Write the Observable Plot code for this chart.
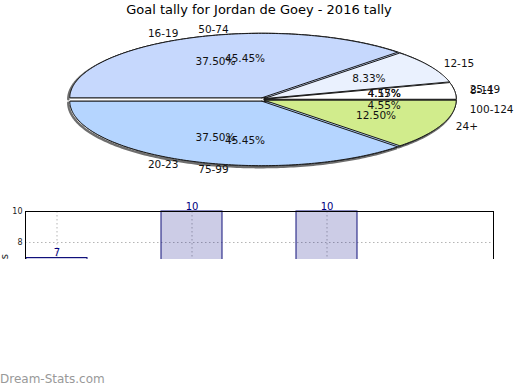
<!DOCTYPE html>
<html><head><meta charset="utf-8">
<script src="https://cdn.jsdelivr.net/npm/d3@7"></script>
<script src="https://cdn.jsdelivr.net/npm/@observablehq/plot@0.6"></script>
<style>
body{margin:0;width:520px;height:390px;overflow:hidden;background:#fff;font-family:"DejaVu Sans",sans-serif;position:relative}
#pie{position:absolute;top:0;left:0}
#title{position:absolute;top:2px;left:0;width:518px;text-align:center;font-size:13px;line-height:16px;color:#000}
#bars{position:absolute;top:196px;left:0;width:520px;height:63px;overflow:hidden}
#credit{position:absolute;left:0;top:372px;font-size:12px;line-height:15px;color:#999}
</style></head><body>
<div id="pie"></div>
<div id="title">Goal tally for Jordan de Goey - 2016 tally</div>
<div id="bars"></div>
<div id="credit">Dream-Stats.com</div>
<script>
// ---- data ----
const ageGroups = ["8-11", "12-15", "16-19", "20-23", "24+"];
const ageCounts = [1, 2, 9, 9, 3];
const ageColors = ["#ffffff", "#eaf1fe", "#c6d8fd", "#b5d5ff", "#d1ec8c"];

const gameGroups = ["25-49", "50-74", "75-99", "100-124"];
const gameCounts = [1, 10, 10, 1];
const gameColors = ["#ffffff", "#c6d8fd", "#b5d5ff", "#d1ec8c"];

const barCats = ["A", "B", "C", "D"];
const barValues = [7, 10, 10];
const barTicks = [8, 10];
const yLabel = "Goals";

// ---- pie geometry (scale space = pixels) ----
const W = 520, H = 190;
const cx = 262, cy = 99, rx = 192, ry = 64.5, ex = 1.8;

function pieSlices(counts, labels, colors) {
  const total = d3.sum(counts);
  const arcs = d3.pie().sort(null).startAngle(0).endAngle(2 * Math.PI)(counts);
  return arcs.map((a, i) => {
    const m = (a.startAngle + a.endAngle) / 2;
    const ox = ex * Math.cos(m), oy = -ex * Math.sin(m);
    const arc = [];
    const n = Math.max(2, Math.ceil((a.endAngle - a.startAngle) / (Math.PI / 180)));
    for (let k = 0; k <= n; k++) {
      const t = a.startAngle + (a.endAngle - a.startAngle) * k / n;
      arc.push({x: cx + ox + rx * Math.cos(t), y: cy + oy - ry * Math.sin(t)});
    }
    const c = {x: cx + ox, y: cy + oy};
    return {
      label: labels[i], color: colors[i], m, arc,
      pts: [c, ...arc, c],
      pct: (a.value / total * 100).toFixed(2) + "%",
      px: cx + 0.64 * rx * Math.cos(m), py: cy - 0.64 * ry * Math.sin(m),
      lx: cx + 1.09 * rx * Math.cos(m), ly: cy - 1.1 * ry * Math.sin(m),
      right: Math.cos(m) >= 0
    };
  });
}
const pie1 = pieSlices(ageCounts, ageGroups, ageColors);
const pie2 = pieSlices(gameCounts, gameGroups, gameColors);
const allSlices = [...pie2, ...pie1];

const sliceMark = (s) => Plot.line(s.pts, {x: "x", y: "y", fill: s.color, stroke: "#1a1a1a", strokeWidth: 1, strokeLinejoin: "round"});

const piePlot = Plot.plot({
  width: W, height: H,
  margin: 0,
  x: {domain: [0, W], range: [0, W], axis: null},
  y: {domain: [0, H], range: [0, H], axis: null},
  style: {fontFamily: "DejaVu Sans", fontSize: "10.5px", background: "transparent", overflow: "visible"},
  marks: [
    ...pie1.map(s => Plot.line(s.arc, {x: "x", y: "y", stroke: "#555", strokeWidth: 2.5, dx: -1.5, dy: 1.5, opacity: 0.85})),
    ...pie2.map(sliceMark),
    ...pie1.map(sliceMark),
    Plot.text(allSlices, {x: "px", y: "py", text: "pct", fill: "#111", fontSize: 10.5}),
    Plot.text(allSlices.filter(s => s.right), {x: "lx", y: "ly", text: "label", textAnchor: "start", fill: "#111", fontSize: 10.5}),
    Plot.text(allSlices.filter(s => !s.right), {x: "lx", y: "ly", text: "label", textAnchor: "end", dx: -4, fill: "#111", fontSize: 10.5})
  ]
});
document.getElementById("pie").appendChild(piePlot);

// ---- bar chart ----
const barData = barValues.map((v, i) => ({cat: barCats[i], value: v}));
const barPlot = Plot.plot({
  width: 520, height: 200,
  marginLeft: 25, marginRight: 27, marginTop: 15, marginBottom: 30,
  style: {fontFamily: "DejaVu Sans", fontSize: "8px", background: "transparent", color: "#222", overflow: "visible"},
  x: {type: "band", domain: barCats, paddingInner: 0.55, paddingOuter: 0, axis: null},
  y: {domain: [0, 10], ticks: barTicks, tickSize: 0, tickPadding: 3, label: null},
  marks: [
    Plot.ruleY(barTicks.filter(t => t < 10), {stroke: "#b5b5b5", strokeDasharray: "1.5,2.5"}),
    Plot.ruleX(barData, {x: "cat", stroke: "#b5b5b5", strokeDasharray: "1.5,2.5"}),
    Plot.barY(barData, {x: "cat", y: "value", fill: "#000080", fillOpacity: 0.2, stroke: "#10107a", strokeWidth: 1}),
    Plot.text(barData, {x: "cat", y: "value", text: d => String(d.value), dy: -5, fill: "#000080", fontSize: 10}),
    Plot.text([{t: yLabel, v: 7.25}], {frameAnchor: "left", y: "v", text: "t", rotate: -90, textAnchor: "end", dx: -21, fill: "#222", fontSize: 10}),
    Plot.frame({stroke: "#000"})
  ]
});
document.getElementById("bars").appendChild(barPlot);
</script>
</body></html>
